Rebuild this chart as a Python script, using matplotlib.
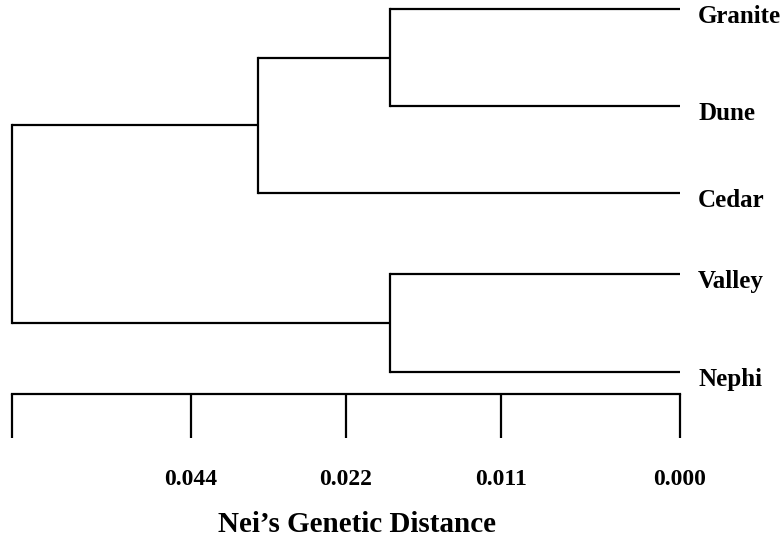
import matplotlib
matplotlib.use("Agg")
import matplotlib.pyplot as plt

# ---- data ----
leaves = ["Granite", "Dune", "Cedar", "Valley", "Nephi"]
leaf_rows = [0.09, 1.06, 1.93, 2.74, 3.72]          # vertical placement of leaves
# merges: (child_a, child_b, height); children index leaves (0..4) or earlier nodes (5..)
merges = [(0, 1, 29.0),      # Granite + Dune
          (5, 2, 42.2),      # (Granite,Dune) + Cedar
          (3, 4, 29.0),      # Valley + Nephi
          (6, 7, 66.8)]      # root
tick_pos = [66.8, 48.9, 33.4, 17.9, 0.0]
tick_labels = ["", "0.044", "0.022", "0.011", "0.000"]
xlabel = "Nei\u2019s Genetic Distance"

W, H = 782, 537
fig = plt.figure(figsize=(W / 100, H / 100), dpi=100)
left_px, right_px = 12, 680
ax = fig.add_axes([left_px / W, 0, (right_px - left_px) / W, 1])
ax.set_xlim(66.8, 0)
ax.set_ylim(5.37, 0)
ax.axis("off")

lw = 1.6
col = "black"
font = dict(family="Liberation Serif", weight="bold")

# build dendrogram
ypos = list(leaf_rows)
xpos = [0.0] * len(leaves)
for a, b, h in merges:
    for c in (a, b):
        ax.plot([xpos[c], h], [ypos[c], ypos[c]], color=col, lw=lw,
                solid_capstyle="butt", clip_on=False)
    ax.plot([h, h], [ypos[a], ypos[b]], color=col, lw=lw,
            solid_capstyle="projecting", clip_on=False)
    ypos.append((ypos[a] + ypos[b]) / 2)
    xpos.append(h)

for name, y in zip(leaves, leaf_rows):
    ax.annotate(name, xy=(0, y), xytext=(13, -10), textcoords="offset points",
                ha="left", va="baseline", fontsize=18, annotation_clip=False, **font)

# scale bar
bar_y = 3.94
tick_len = 0.44
ax.plot([max(tick_pos), min(tick_pos)], [bar_y, bar_y], color=col, lw=lw,
        solid_capstyle="projecting", clip_on=False)
for t, lab in zip(tick_pos, tick_labels):
    ax.plot([t, t], [bar_y, bar_y + tick_len], color=col, lw=lw,
            solid_capstyle="butt", clip_on=False)
    if lab:
        ax.text(t, 4.85, lab, ha="center", va="baseline", fontsize=17, **font)

ax.text(32.3, 5.32, xlabel, ha="center", va="baseline", fontsize=21, **font)

fig.savefig("out.png", dpi=100, facecolor="white")
